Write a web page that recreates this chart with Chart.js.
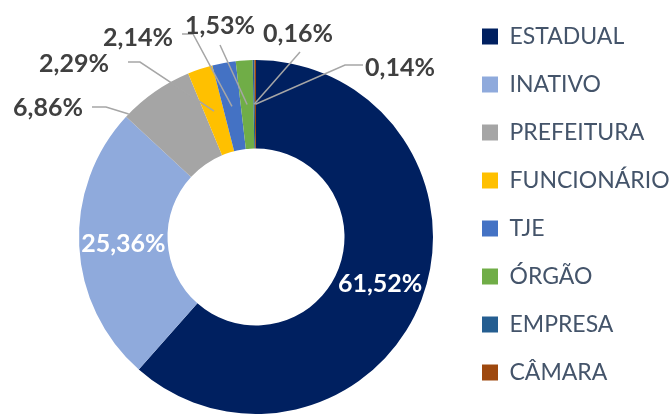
<!DOCTYPE html>
<html><head><meta charset="utf-8">
<script src="https://cdn.jsdelivr.net/npm/chart.js@4.4.0/dist/chart.umd.min.js"></script>
<style>html,body{margin:0;padding:0;background:#fff}#wrap{width:672px;height:414px;position:relative}</style>
</head><body><div id="wrap"><canvas id="c"></canvas></div>
<script>
const categories = ['ESTADUAL','INATIVO','PREFEITURA','FUNCIONÁRIO','TJE','ÓRGÃO','EMPRESA','CÂMARA'];
const shares = [61.52, 25.36, 6.86, 2.29, 2.14, 1.53, 0.16, 0.14];
const sliceColors = ['#002060','#8FAADC','#A5A5A5','#FFC000','#4472C4','#70AD47','#255E91','#9E480E'];

// label placement (offsets from doughnut centre, px)
const labelLayout = [
  {mode:'inside'},
  {mode:'inside'},
  {mode:'outside', tx:-208, ty:-129, path:[[-164,-130],[-150,-130]], aFrac:0.05, rFrac:1},
  {mode:'outside', tx:-182, ty:-173, path:[[-128,-175],[-116,-175]], aFrac:0.5, rFrac:0.5},
  {mode:'outside', tx:-118, ty:-199, path:[[-74,-203],[-63,-203]], aFrac:0.5, rFrac:0.5},
  {mode:'outside', tx:-36,  ty:-211, path:[[-36,-192]], aFrac:0.5, rFrac:0.5},
  {mode:'outside', tx:42,   ty:-203, path:[[44,-185]], aFrac:0.5, rFrac:0.5},
  {mode:'outside', tx:144,  ty:-169, path:[[107,-172],[89,-172]], aFrac:0.5, rFrac:0.5}
];

const fmt = v => v.toFixed(2).replace('.', ',') + '%';

const labelPlugin = {
  id: 'sliceLabels',
  afterDatasetsDraw(chart) {
    const ctx = chart.ctx;
    const meta = chart.getDatasetMeta(0);
    ctx.save();
    ctx.font = 'bold 25px Lato, "Open Sans", sans-serif';
    ctx.textAlign = 'center';
    ctx.textBaseline = 'middle';
    meta.data.forEach((arc, i) => {
      const L = labelLayout[i];
      const p = arc.getProps(['x','y','startAngle','endAngle','innerRadius','outerRadius'], true);
      const text = fmt(shares[i]);
      if (L.mode === 'inside') {
        const pos = arc.tooltipPosition(true);
        ctx.fillStyle = '#FFFFFF';
        ctx.fillText(text, pos.x, pos.y);
      } else {
        const a = p.startAngle + (p.endAngle - p.startAngle) * L.aFrac;
        const r = p.innerRadius + (p.outerRadius - p.innerRadius) * L.rFrac;
        const ax = p.x + r * Math.cos(a), ay = p.y + r * Math.sin(a);
        ctx.strokeStyle = '#A6A6A6';
        ctx.lineWidth = 1.5;
        ctx.beginPath();
        L.path.forEach((pt, k) => {
          if (k === 0) ctx.moveTo(p.x + pt[0], p.y + pt[1]);
          else ctx.lineTo(p.x + pt[0], p.y + pt[1]);
        });
        ctx.lineTo(ax, ay);
        ctx.stroke();
        ctx.fillStyle = '#404040';
        ctx.fillText(text, p.x + L.tx, p.y + L.ty);
      }
    });
    ctx.restore();
  }
};

new Chart(document.getElementById('c'), {
  type: 'doughnut',
  data: {
    labels: categories,
    datasets: [{
      data: shares,
      backgroundColor: sliceColors,
      borderWidth: 0,
      hoverOffset: 0
    }]
  },
  options: {
    responsive: true,
    maintainAspectRatio: false,
    animation: false,
    cutout: '50%',
    layout: { padding: { left: 55, right: 0, top: 0, bottom: 0 } },
    plugins: {
      tooltip: { enabled: false },
      title: { display: true, text: '', fullSize: false, padding: { top: 48, bottom: 0 }, font: { size: 10 } },
      legend: {
        position: 'right',
        align: 'start',
        maxWidth: 215,
        labels: {
          boxWidth: 16,
          boxHeight: 16,
          padding: 25,
          color: '#44546A',
          font: { family: 'Lato, "Open Sans", sans-serif', size: 23 }
        }
      }
    }
  },
  plugins: [labelPlugin]
});
</script>
</body></html>
